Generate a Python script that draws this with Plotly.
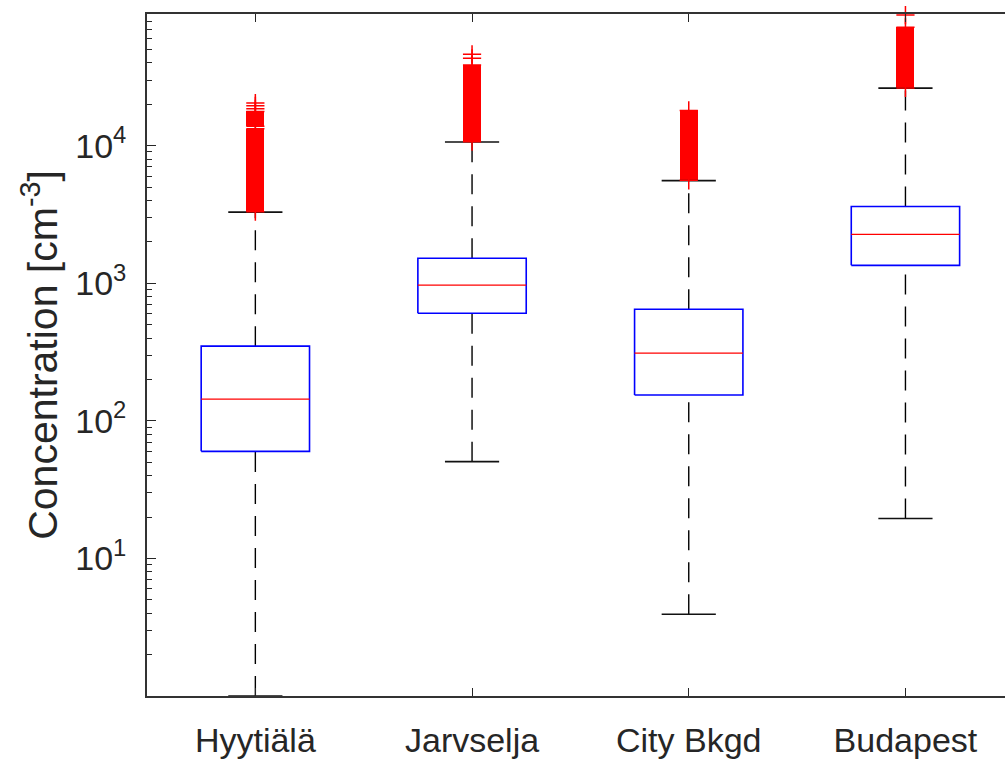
import numpy as np
import plotly.graph_objects as go

# --- data -------------------------------------------------------------------
sites = ["Hyytiälä", "Jarvselja", "City Bkgd", "Budapest"]
q1 = [60, 606, 154, 1350]
median = [144, 968, 311, 2265]
q3 = [349, 1518, 648, 3614]
lower_whisker = [1.0, 50.5, 3.93, 19.5]
upper_whisker = [3290, 10640, 5575, 26200]

# runs of outliers packed too tightly to separate: site index, lowest, highest
run_site = [0, 0, 1, 2, 3]
run_low = [3310, 13850, 10700, 5600, 26300]
run_high = [13280, 17740, 38650, 18030, 72460]

# isolated outliers above the runs
outlier_site = [0, 0, 0, 1, 1, 3]
outlier_value = [18540, 19490, 20400, 43200, 46200, 88960]

ytick_vals = [10, 100, 1000, 10000]
ytick_text = ["10<sup>1</sup>", "10<sup>2</sup>", "10<sup>3</sup>", "10<sup>4</sup>"]

# --- styling ----------------------------------------------------------------
FONT = "Liberation Sans, Arial, sans-serif"
AX = "#262626"
BOX_HALF = 0.25
CAP_HALF = 0.125
PLUS_SIZE = 13
RUN_WIDTH = 0.083

pos = np.arange(1, len(sites) + 1)

fig = go.Figure()

# whiskers (dashed), drawn bottom-up from each end
wx, wy = [], []
for i, p in enumerate(pos):
    wx += [p, p, None, p, p, None]
    wy += [lower_whisker[i], q1[i], None, q3[i], upper_whisker[i], None]
fig.add_trace(go.Scatter(x=wx, y=wy, mode="lines", hoverinfo="skip",
                         line=dict(color="#000000", width=1.4, dash="20px,12px")))

# whisker caps
cx, cy = [], []
for i, p in enumerate(pos):
    for v in (lower_whisker[i], upper_whisker[i]):
        cx += [p - CAP_HALF, p + CAP_HALF, None]
        cy += [v, v, None]
fig.add_trace(go.Scatter(x=cx, y=cy, mode="lines", hoverinfo="skip",
                         line=dict(color="#111111", width=1.6)))

# boxes
bx, by = [], []
for i, p in enumerate(pos):
    bx += [p - BOX_HALF, p + BOX_HALF, p + BOX_HALF, p - BOX_HALF, p - BOX_HALF, None]
    by += [q1[i], q1[i], q3[i], q3[i], q1[i], None]
fig.add_trace(go.Scatter(x=bx, y=by, mode="lines", hoverinfo="skip",
                         line=dict(color="#0000FF", width=1.6)))

# medians
mx, my = [], []
for i, p in enumerate(pos):
    mx += [p - BOX_HALF, p + BOX_HALF, None]
    my += [median[i], median[i], None]
fig.add_trace(go.Scatter(x=mx, y=my, mode="lines", hoverinfo="skip",
                         line=dict(color="#FF0000", width=1.2)))

# packed outlier runs as solid red columns
fig.add_trace(go.Bar(
    x=[pos[s] for s in run_site],
    base=run_low,
    y=[h - l for l, h in zip(run_low, run_high)],
    width=RUN_WIDTH,
    marker=dict(color="#FF0000", line=dict(width=0)),
    hoverinfo="skip",
))

# outlier markers: ends of each run plus the isolated ones
ox = [pos[s] for s in run_site] * 2 + [pos[s] for s in outlier_site]
oy = list(run_low) + list(run_high) + list(outlier_value)
fig.add_trace(go.Scatter(
    x=ox, y=oy, mode="markers", cliponaxis=False, hoverinfo="skip",
    marker=dict(symbol="cross-thin", size=PLUS_SIZE,
                line=dict(color="#FF0000", width=1.5)),
))

minor_vals = [m * 10 ** d for d in range(0, 5) for m in range(2, 10)]

fig.update_layout(
    width=1005, height=759,
    margin=dict(l=147, r=0, t=14, b=61),
    paper_bgcolor="white", plot_bgcolor="white",
    showlegend=False,
    bargap=0,
    font=dict(family=FONT, color=AX),
    xaxis=dict(
        range=[0.5, 0.5 + 858 / 216.7],
        tickmode="array", tickvals=list(pos), ticktext=sites,
        ticks="inside", ticklen=8, tickwidth=1.4, tickcolor=AX,
        showline=True, linecolor="#333333", linewidth=1.8, mirror="ticks",
        showgrid=False, zeroline=False,
        tickfont=dict(size=34, color=AX, family=FONT),
        ticklabelstandoff=13,
    ),
    yaxis=dict(
        type="log",
        range=[0, np.log10(90600)],
        tickmode="array", tickvals=ytick_vals, ticktext=ytick_text,
        ticks="inside", ticklen=9, tickwidth=1.4, tickcolor=AX,
        minor=dict(tickmode="array", tickvals=minor_vals, ticks="inside",
                   ticklen=5, tickwidth=1.2, tickcolor=AX, showgrid=False),
        showline=True, linecolor="#333333", linewidth=1.8, mirror=False,
        showgrid=False, zeroline=False,
        tickfont=dict(size=34, color=AX, family=FONT),
        ticklabelstandoff=12,
        title=dict(text="Concentration [cm<sup>-3</sup>]",
                   font=dict(size=41, color=AX, family=FONT), standoff=5),
    ),
)

fig.write_html("out.html")
